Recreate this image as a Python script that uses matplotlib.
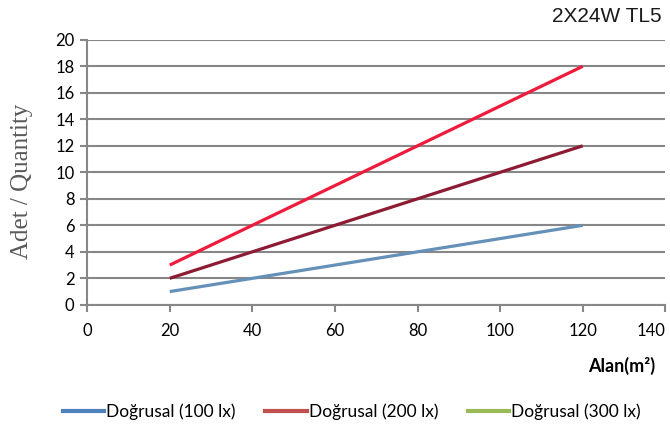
import matplotlib
matplotlib.use('Agg')
import matplotlib.pyplot as plt
from matplotlib.lines import Line2D

# data
area = [20, 120]
qty_100 = [1, 6]
qty_200 = [2, 12]
qty_300 = [3, 18]
series_labels = ['Doğrusal (100 lx)', 'Doğrusal (200 lx)', 'Doğrusal (300 lx)']
line_colors = ['#6590B8', '#8C1B33', '#EE1B3C']
legend_colors = ['#4F81BD', '#C0504D', '#9BBB59']
x_ticks = [0, 20, 40, 60, 80, 100, 120, 140]
y_ticks = [0, 2, 4, 6, 8, 10, 12, 14, 16, 18, 20]

tick_font = 'Lato'

fig = plt.figure(figsize=(6.70, 4.33), dpi=100)
ax = fig.add_axes([0.130, 0.296, 0.863, 0.612])

for ys, c in zip([qty_100, qty_200, qty_300], line_colors):
    ax.plot(area, ys, color=c, lw=2.3, solid_capstyle='butt', zorder=3)

ax.set_xlim(0, 140)
ax.set_ylim(0, 20)
ax.set_xticks(x_ticks)
ax.set_yticks(y_ticks)
ax.yaxis.grid(True, color='#878787', lw=1.5)
ax.set_axisbelow(True)

for s in ['top', 'right']:
    ax.spines[s].set_visible(False)
for s in ['left', 'bottom']:
    ax.spines[s].set_color('#878787')
    ax.spines[s].set_linewidth(1.5)
ax.tick_params(axis='both', colors='#878787', width=1.5, length=5, labelcolor='black')
for lab in ax.get_xticklabels() + ax.get_yticklabels():
    lab.set_fontfamily(tick_font)
    lab.set_fontsize(12)
ax.get_xticklabels()[-1].set_horizontalalignment('right')
ax.tick_params(axis='x', pad=8)
ax.tick_params(axis='y', pad=4)

fig.text(22 / 670, 1 - 181 / 433, 'Adet / Quantity', rotation=90,
         ha='center', va='center', family='Liberation Serif', fontsize=18,
         color='#595959')

fig.text(0.988, 0.962, '2X24W TL5', ha='right', va='center',
         family='Liberation Sans', fontsize=15, color='#1a1a1a')
fig.text(0.978, 0.155, 'Alan(m²)', ha='right', va='center',
         family=tick_font, fontsize=13, fontweight='bold')

handles = [Line2D([0], [0], color=c, lw=3) for c in legend_colors]
fig.legend(handles, series_labels, loc='center', bbox_to_anchor=(0.525, 0.048),
           ncol=3, frameon=False, handlelength=2.4, handletextpad=0.1,
           columnspacing=1.7, prop={'family': tick_font, 'size': 12.5})

fig.savefig('out.png', dpi=100)
